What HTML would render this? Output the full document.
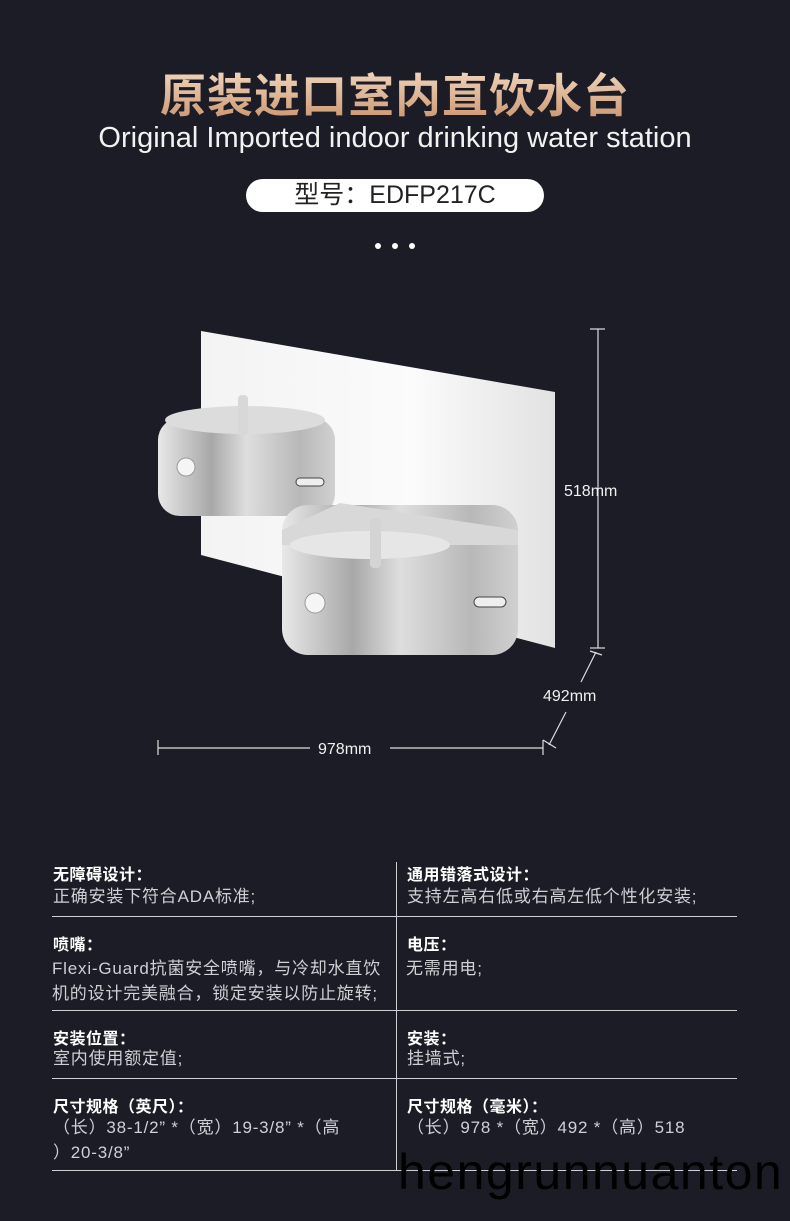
<!DOCTYPE html>
<html><head><meta charset="utf-8"><style>
body{margin:0;width:790px;height:1221px;background:#1b1c25;position:relative;overflow:hidden;font-family:"Liberation Sans","Noto Sans CJK SC",sans-serif;}
.a{position:absolute;white-space:nowrap}
.t{left:0;width:790px;text-align:center;top:60px;font-size:46px;font-weight:bold;color:#e8c2a0;letter-spacing:1px;background:linear-gradient(#f7e2cc,#c88f68);-webkit-background-clip:text;background-clip:text;-webkit-text-fill-color:transparent}
.e{left:0;width:790px;text-align:center;top:122px;font-size:29px;color:#f2f2f2}
.pill{left:246px;top:179px;width:298px;height:33px;background:#fff;border-radius:17px;text-align:center;font-size:25px;line-height:33px;color:#222}
.h{font-size:16px;font-weight:bold;color:#fff;letter-spacing:0.5px}
.b{font-size:17px;color:#cfcfd4;line-height:25px;letter-spacing:0.8px}
.l{position:absolute;height:1px;background:#cfcfd4;left:52px;width:685px}
</style></head><body>
<div class="a t">原装进口室内直饮水台</div>
<div class="a e">Original Imported indoor drinking water station</div>
<div class="a pill">型号：EDFP217C</div>
<svg class="a" style="left:0;top:0" width="790" height="840">
<circle cx="378" cy="246" r="3" fill="#fff"/><circle cx="395" cy="246" r="3" fill="#fff"/><circle cx="412" cy="246" r="3" fill="#fff"/>
<defs><linearGradient id="p" x1="0" x2="1"><stop offset="0" stop-color="#f3f3f3"/><stop offset="0.6" stop-color="#fbfbfb"/><stop offset="1" stop-color="#e2e2e2"/></linearGradient>
<linearGradient id="s" x1="0" x2="1"><stop offset="0" stop-color="#e8e8e8"/><stop offset="0.3" stop-color="#a8a8a8"/><stop offset="0.5" stop-color="#dedede"/><stop offset="0.8" stop-color="#b8b8b8"/><stop offset="1" stop-color="#d0d0d0"/></linearGradient></defs>
<polygon points="201,331 555,392 555,648 201,555" fill="url(#p)"/>
<rect x="158" y="418" width="177" height="98" rx="22" fill="url(#s)"/>
<ellipse cx="245" cy="420" rx="80" ry="14" fill="#dcdcdc"/>
<rect x="238" y="395" width="10" height="40" rx="4" fill="#d8d8d8"/>
<circle cx="186" cy="467" r="9" fill="#f5f5f5" stroke="#999"/>
<rect x="282" y="505" width="236" height="150" rx="26" fill="url(#s)"/>
<polygon points="282,530 340,503 518,530 518,545 282,545" fill="#d8d8d8"/>
<ellipse cx="370" cy="545" rx="80" ry="14" fill="#e6e6e6"/>
<rect x="370" y="518" width="11" height="50" rx="4" fill="#d4d4d4"/>
<circle cx="315" cy="603" r="10" fill="#f5f5f5" stroke="#999"/>
<rect x="474" y="597" width="32" height="10" rx="5" fill="#eee" stroke="#444"/>
<rect x="296" y="478" width="28" height="8" rx="4" fill="#eee" stroke="#444"/>
<g stroke="#ddd" stroke-width="1.2" fill="none">
<line x1="598" y1="329" x2="598" y2="648"/><line x1="590" y1="329" x2="605" y2="329"/><line x1="590" y1="648" x2="605" y2="648"/>
<line x1="596" y1="652" x2="581" y2="682"/><line x1="566" y1="712" x2="549" y2="745"/><line x1="590" y1="651" x2="602" y2="655"/><line x1="543" y1="740" x2="556" y2="748"/>
<line x1="158" y1="740" x2="158" y2="755"/><line x1="158" y1="748" x2="310" y2="748"/><line x1="390" y1="748" x2="543" y2="748"/><line x1="543" y1="740" x2="543" y2="755"/>
</g>
<g fill="#f0f0f0" font-size="16" font-family="Liberation Sans,sans-serif">
<text x="564" y="496">518mm</text><text x="543" y="701">492mm</text><text x="318" y="754">978mm</text></g>
</svg>
<div class="a" style="left:396px;top:862px;width:1px;height:308px;background:#cfcfd4"></div>
<div class="l" style="top:916px"></div><div class="l" style="top:1010px"></div><div class="l" style="top:1078px"></div><div class="l" style="top:1170px"></div>
<div class="a h" style="left:53px;top:861px">无障碍设计：</div>
<div class="a b" style="left:53px;top:884px">正确安装下符合ADA标准;</div>
<div class="a h" style="left:407px;top:861px">通用错落式设计：</div>
<div class="a b" style="left:407px;top:884px">支持左高右低或右高左低个性化安装;</div>
<div class="a h" style="left:53px;top:931px">喷嘴：</div>
<div class="a b" style="left:52px;top:956px">Flexi-Guard抗菌安全喷嘴，与冷却水直饮<br>机的设计完美融合，锁定安装以防止旋转;</div>
<div class="a h" style="left:407px;top:931px">电压：</div>
<div class="a b" style="left:406px;top:956px">无需用电;</div>
<div class="a h" style="left:53px;top:1025px">安装位置：</div>
<div class="a b" style="left:53px;top:1046px">室内使用额定值;</div>
<div class="a h" style="left:407px;top:1025px">安装：</div>
<div class="a b" style="left:407px;top:1046px">挂墙式;</div>
<div class="a h" style="left:53px;top:1093px">尺寸规格（英尺）：</div>
<div class="a b" style="left:53px;top:1115px">（长）38-1/2” *（宽）19-3/8” *（高<br>）20-3/8”</div>
<div class="a h" style="left:407px;top:1093px">尺寸规格（毫米）：</div>
<div class="a b" style="left:407px;top:1115px">（长）978 *（宽）492 *（高）518</div>
<div class="a" style="left:398px;top:1143px;font-size:50px;letter-spacing:1.5px;color:#000">hengrunnuanton</div>
</body></html>
